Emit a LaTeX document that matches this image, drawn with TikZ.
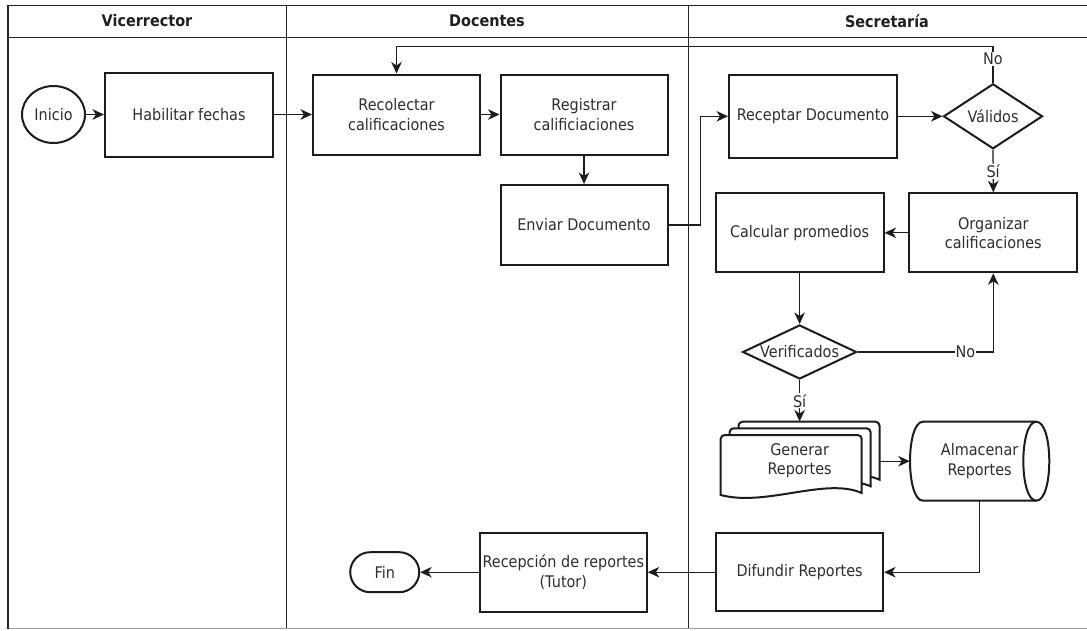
\documentclass[tikz,border=0pt]{standalone}
\usepackage{fontspec}
\setmainfont{DejaVu Sans}[FakeStretch=0.9]
\usetikzlibrary{arrows.meta,shapes.geometric}
\definecolor{ink}{HTML}{2E2E2E}
\definecolor{edge}{HTML}{1C1C1C}
\definecolor{rule}{HTML}{262626}
\definecolor{floor}{HTML}{9A9A9A}

% one sheet of the stacked-report symbol, top-left corner at (#1,#2)
\newcommand\reportsheet[2]{%
  \draw[sheet] (#1,#2+4) .. controls (#1,#2+1.8) and (#1+1.8,#2) .. (#1+4,#2)
    -- (#1+137,#2) .. controls (#1+139.2,#2) and (#1+141,#2+1.8) .. (#1+141,#2+4)
    -- (#1+141,#2+58) .. controls (#1+105,#2+42) and (#1+45,#2+72) .. (#1,#2+60)
    -- cycle;}

\begin{document}
\begin{tikzpicture}[x=1pt,y=-1pt,
  font=\fontsize{16}{19.5}\selectfont,
  box/.style={draw=edge,line width=2pt,fill=white,rectangle,align=center,
    inner sep=0pt,text=ink},
  sheet/.style={draw=edge,line width=2pt,fill=white},
  head/.style={font=\fontsize{16}{19.5}\selectfont\bfseries,text=black!88},
  conn/.style={draw=edge,line width=1.2pt,
    -{Stealth[length=11.5pt,width=10.5pt,inset=3.5pt]}},
  lbl/.style={fill=white,inner sep=1pt,text=ink}]

\fill[white] (0,0) rectangle (1087,630);
\useasboundingbox (0,0) rectangle (1087,630);

% swimlanes
\draw[rule,line width=1pt] (8,5) -- (1087,5);
\draw[rule,line width=1.5pt] (8,37.5) -- (1087,37.5);
\draw[rule,line width=1pt] (286,5) -- (286,628);
\draw[rule,line width=1pt] (688,5) -- (688,628);
\draw[floor,line width=1.2pt] (8,628.5) -- (1087,628.5);
\draw[rule,line width=2pt] (8,5) -- (8,629);

\node[head] (h1) at (147,21) {Vicerrector};
\node[head] (h2) at (487,21) {Docentes};
\node[head] (h3) at (887,21) {Secretaría};

% Vicerrector
\node[box,ellipse,minimum width=63pt,minimum height=57pt] (ini) at (53.5,114.5) {Inicio};
\node[box,minimum width=168pt,minimum height=84pt] (hab) at (189,114.5) {Habilitar fechas};

% Docentes
\node[box,minimum width=167pt,minimum height=80pt] (rec) at (396.5,114.5) {Recolectar\\calificaciones};
\node[box,minimum width=167pt,minimum height=80pt] (reg) at (584,114.5) {Registrar\\calificiaciones};
\node[box,minimum width=167pt,minimum height=80pt] (env) at (584,225) {Enviar Documento};
\node[box,minimum width=167pt,minimum height=79pt] (rep) at (563.3,572.2) {Recepción de reportes\\(Tutor)};
\node[box,rounded corners=20pt,minimum width=69pt,minimum height=40pt] (fin) at (384.7,572.2) {Fin};

% Secretaria
\node[box,minimum width=168pt,minimum height=83pt] (rcp) at (813,116.3) {Receptar Documento};
\node[box,diamond,minimum width=99pt,minimum height=65pt,
  label={[text=ink]center:Válidos}] (val) at (993,116.3) {};
\node[box,minimum width=168pt,minimum height=79pt] (org) at (993.3,232.8) {Organizar\\calificaciones};
\node[box,minimum width=168pt,minimum height=79pt] (cal) at (799.6,232.8) {Calcular promedios};
\node[box,diamond,minimum width=114pt,minimum height=54pt,
  label={[text=ink]center:Verificados}] (ver) at (799.6,352) {};

% stacked reports
\reportsheet{738.5}{421.7}
\reportsheet{729.6}{428.3}
\reportsheet{720.7}{435}
\node[align=center,inner sep=0pt,text=ink,minimum width=160pt,minimum height=78pt]
  (gen) at (799.6,460.7) {Generar\\Reportes};

% storage cylinder
\draw[sheet] (923,421.7) -- (1036.3,421.7)
  .. controls (1053.6,421.7) and (1053.6,500.7) .. (1036.3,500.7)
  -- (923,500.7) .. controls (905.7,500.7) and (905.7,421.7) .. (923,421.7) -- cycle;
\draw[draw=edge,line width=2pt] (1036.3,421.7)
  .. controls (1019,421.7) and (1019,500.7) .. (1036.3,500.7);
\node[align=center,inner sep=0pt,text=ink,minimum width=139.3pt,minimum height=79pt]
  (alm) at (979.6,461.2) {Almacenar\\Reportes};

\node[box,minimum width=167pt,minimum height=78pt] (dif) at (799.6,572.2) {Difundir Reportes};

% connectors
\draw[conn] (ini) -- (hab);
\draw[conn] (hab) -- (rec);
\draw[conn] (rec) -- (reg);
\draw[conn] (reg) -- (env);
\draw[conn] (env.east) -- ++(32,0) |- (rcp.west);
\draw[conn] (rcp) -- (val);
\draw[conn] (val.north) -- node[lbl,pos=0.65] (no1) {No} ++(0,-36.3) -| (rec.north);
\draw[conn] (val.south) -- node[lbl] (si1) {Sí} (org.north);
\draw[conn] (org.west) -- (org.west -| cal.east);
\draw[conn] (cal.south) -- (ver.north);
\draw[conn] (ver.east) -- node[lbl,pos=0.795] (no2) {No} (ver.east -| org.south) -- (org.south);
\draw[conn] (ver.south) -- node[lbl] (si2) {Sí} (gen.north);
\draw[conn] (gen.east |- alm.west) -- (alm.west);
\draw[conn] (alm.south) |- (dif.east);
\draw[conn] (dif.west) -- (rep.east);
\draw[conn] (rep.west) -- (fin.east);

\end{tikzpicture}
\end{document}
